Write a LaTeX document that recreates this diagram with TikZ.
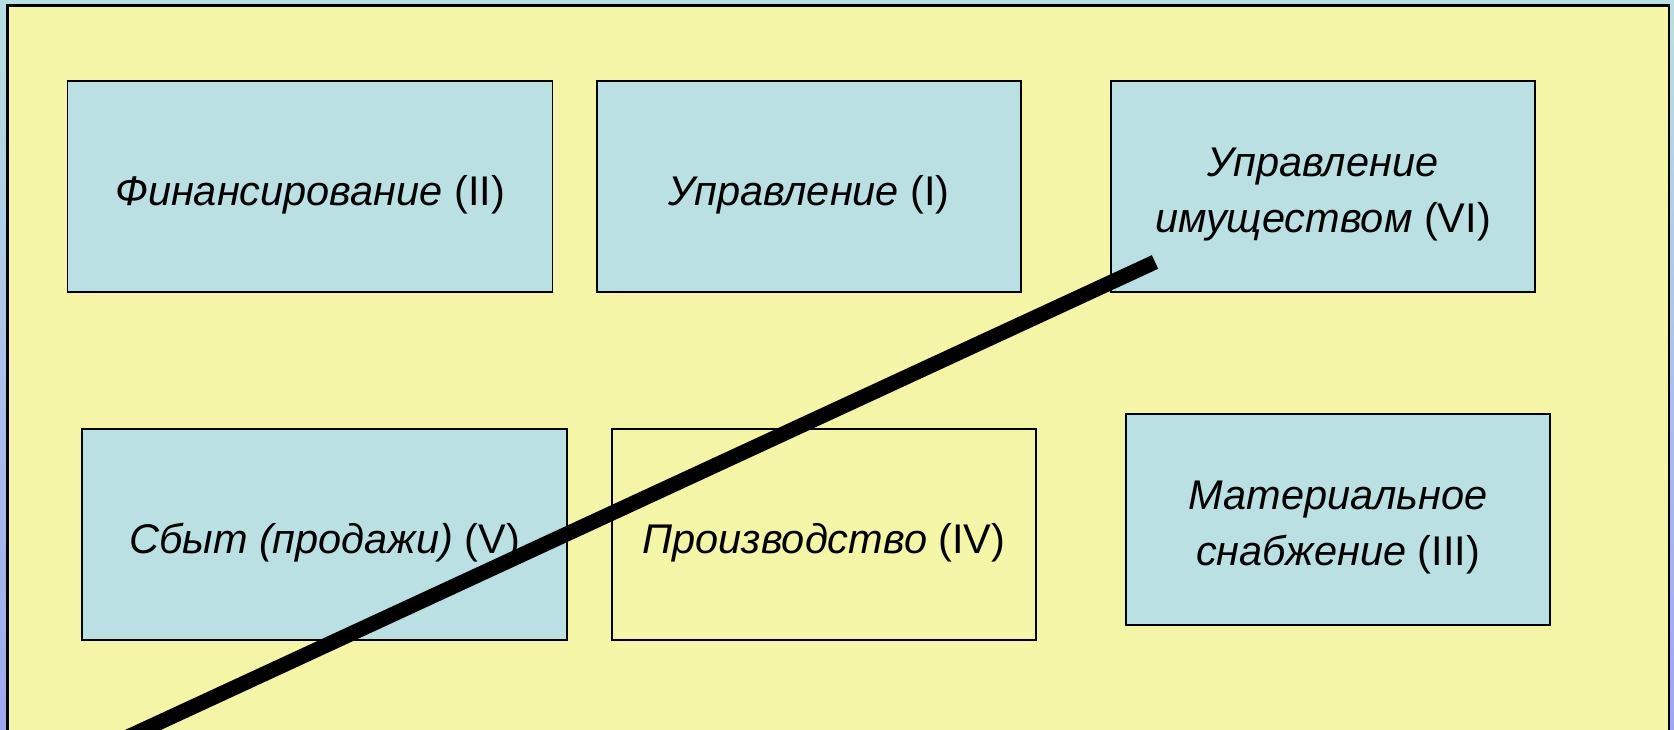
\documentclass[tikz,border=0pt]{standalone}
\usepackage{fontspec}
\setmainfont{Liberation Sans}
\definecolor{paleyellow}{RGB}{245,245,168}
\definecolor{boxblue}{RGB}{186,224,228}
\definecolor{bgtop}{RGB}{184,223,227}
\definecolor{bgbottom}{RGB}{158,166,240}
\begin{document}
\begin{tikzpicture}[x=1pt,y=-1pt,
		box/.style={draw=black, line width=1.6pt, fill=boxblue, minimum height=211pt, inner sep=0pt},
		boxtext/.style={yshift=-8pt, inner sep=0pt, align=center, font=\fontsize{41.5}{56.5}\selectfont},
		wide/.style={box, minimum width=485pt},
		narrow/.style={box, minimum width=424pt}]%,show background rectangle]
			\useasboundingbox (0,0) rectangle (1674,730);
			\shade[top color=bgtop, bottom color=bgbottom] (0,0) rectangle (1674,730);
			\draw[line width=2.4pt, fill=paleyellow] (7.5,5.5) rectangle (1669,760);
			\node[wide, label={[boxtext]center:{\textit{Финансирование} (II)}}] (fin) at (310,186.5) {};
			\node[narrow, label={[boxtext]center:{\textit{Управление} (I)}}] (upr) at (809,186.5) {};
			\node[narrow, label={[boxtext]center:{\textit{Управление}\\\textit{имуществом} (VI)}}] (imu) at (1323,186.5) {};
			\node[wide, label={[boxtext]center:{\textit{Сбыт (продажи)} (V)}}] (sbyt) at (324.7,534.7) {};
			\node[narrow, fill=paleyellow, label={[boxtext]center:{\textit{Производство} (IV)}}] (proizv) at (824,534.7) {};
			\node[narrow, label={[boxtext]center:{\textit{Материальное}\\\textit{снабжение} (III)}}] (snab) at (1338,519.7) {};
			\coordinate (slashtop) at (1155,262);
			\coordinate (slashbottom) at (78,760);
			\draw[line width=15pt] (slashtop) -- (slashbottom);
		\end{tikzpicture}
\end{document}
